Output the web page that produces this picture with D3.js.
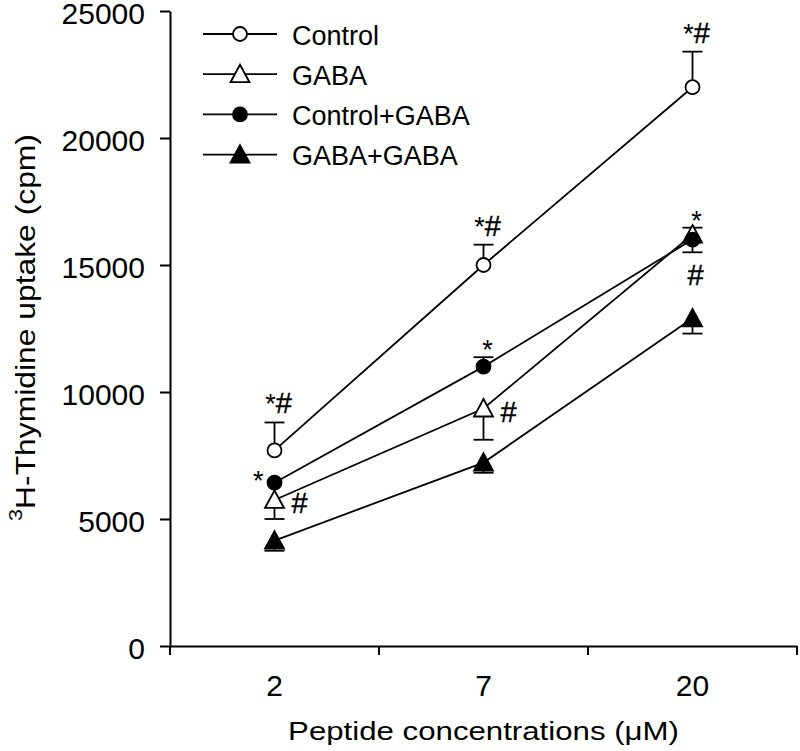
<!DOCTYPE html>
<html>
<head>
<meta charset="utf-8">
<script src="https://cdn.jsdelivr.net/npm/d3@7"></script>
<style>
  html, body { margin: 0; padding: 0; background: #fff; }
  svg { display: block; font-family: "Liberation Sans", Arial, sans-serif; }
</style>
</head>
<body>
<svg id="chart" width="800" height="751"></svg>
<script>
// ---- data ----
const categories = ["2", "7", "20"];
const seriesNames = ["Control", "GABA", "Control+GABA", "GABA+GABA"];
const seriesMarkers = ["circle-open", "triangle-open", "circle-filled", "triangle-filled"];

const controlValues = [7700, 15000, 22000];
const controlErrors = [1100, 800, 1400];
const controlErrorDir = ["up", "up", "up"];

const gabaValues = [5750, 9350, 16200];
const gabaErrors = [750, 1230, 270];
const gabaErrorDir = ["down", "down", "up"];

const controlGabaValues = [6430, 11000, 16000];
const controlGabaErrors = [0, 370, 500];
const controlGabaErrorDir = ["up", "up", "down"];

const gabaGabaValues = [4150, 7220, 12900];
const gabaGabaErrors = [400, 400, 600];
const gabaGabaErrorDir = ["down", "down", "down"];

const yTicks = [0, 5000, 10000, 15000, 20000, 25000];

// significance marks: series index, category, text, placement
const annotations = [
  { s: 0, c: "2", t: "*#", pos: "above" },
  { s: 0, c: "7", t: "*#", pos: "above" },
  { s: 0, c: "20", t: "*#", pos: "above" },
  { s: 2, c: "2", t: "*", pos: "left" },
  { s: 1, c: "2", t: "#", pos: "right" },
  { s: 2, c: "7", t: "*", pos: "above" },
  { s: 1, c: "7", t: "#", pos: "right" },
  { s: 1, c: "20", t: "*", pos: "above" },
  { s: 2, c: "20", t: "#", pos: "below" }
];

const seriesValues = [controlValues, gabaValues, controlGabaValues, gabaGabaValues];
const seriesErrors = [controlErrors, gabaErrors, controlGabaErrors, gabaGabaErrors];
const seriesErrDir = [controlErrorDir, gabaErrorDir, controlGabaErrorDir, gabaGabaErrorDir];

// ---- layout ----
const svg = d3.select("#chart");
const mLeft = 170, mRight = 797, mTop = 11, mBottom = 646;

const x = d3.scaleBand().domain(categories).range([mLeft, mRight]).padding(0);
const y = d3.scaleLinear().domain([0, 25000]).range([mBottom, mTop]);
const cx = c => x(c) + x.bandwidth() / 2;

const series = seriesNames.map((name, i) => ({
  name, marker: seriesMarkers[i],
  points: categories.map((c, j) => ({
    c, v: seriesValues[i][j], e: seriesErrors[i][j], dir: seriesErrDir[i][j]
  }))
}));

const stroke = "#000";
const lw = 1.8;

// ---- axes ----
const yAxis = d3.axisLeft(y).tickValues(yTicks).tickFormat(d3.format("d"))
  .tickSize(10).tickSizeOuter(0).tickPadding(15);
const gy = svg.append("g").attr("transform", `translate(${mLeft},0)`).call(yAxis);
gy.select(".domain").attr("stroke-width", 2);
gy.selectAll(".tick line").attr("stroke-width", 2);
gy.selectAll("text").attr("font-size", 30).attr("fill", "#000").attr("dy", "0.4em")
  .attr("font-family", "Liberation Sans, Arial, sans-serif");

const xAxis = d3.axisBottom(x).tickSize(0).tickSizeOuter(0).tickPadding(29);
const gx = svg.append("g").attr("transform", `translate(0,${mBottom})`).call(xAxis);
gx.select(".domain").attr("stroke-width", 2);
gx.selectAll("text").attr("font-size", 30).attr("fill", "#000")
  .attr("font-family", "Liberation Sans, Arial, sans-serif");
// boundary ticks between categories
const boundaries = categories.map(c => x(c)).concat([x(categories[categories.length - 1]) + x.bandwidth()]);
gx.selectAll(".bound").data(boundaries).enter().append("line")
  .attr("x1", d => d).attr("x2", d => d).attr("y1", 0).attr("y2", 9)
  .attr("stroke", stroke).attr("stroke-width", 2);

// ---- axis titles ----
const xt = svg.append("g");
const xtText = xt.append("text").attr("text-anchor", "middle")
  .attr("font-size", 25).attr("fill", "#000")
  .text("Peptide concentrations (\u03BCM)");
const sx = 391 / xtText.node().getComputedTextLength();
xt.attr("transform", `translate(${(mLeft + mRight) / 2},740) scale(${sx},1)`);

const yt = svg.append("g");
const ytText = yt.append("text").attr("text-anchor", "middle")
  .attr("font-size", 28).attr("fill", "#000");
ytText.append("tspan").attr("font-size", 19).attr("dy", -13).text("3");
ytText.append("tspan").attr("dy", 13).text("H-Thymidine uptake (cpm)");
const sy = 387 / ytText.node().getBBox().width;
yt.attr("transform", `translate(35,${(mTop + mBottom) / 2 - 1}) rotate(-90) scale(${sy},1)`);

// ---- markers ----
function trianglePath() {
  return "M0,-9.5L9.5,8L-9.5,8Z";
}
function drawMarker(g, type, px, py) {
  const filled = type.endsWith("filled");
  if (type.startsWith("circle")) {
    g.append("circle").attr("cx", px).attr("cy", py).attr("r", 7)
      .attr("fill", filled ? "#000" : "#fff").attr("stroke", stroke).attr("stroke-width", lw);
  } else {
    g.append("path").attr("d", trianglePath())
      .attr("transform", `translate(${px},${py})`)
      .attr("fill", filled ? "#000" : "#fff").attr("stroke", stroke)
      .attr("stroke-width", lw).attr("stroke-linejoin", "miter");
  }
}

// ---- lines ----
const line = d3.line().x(d => cx(d.c)).y(d => y(d.v));
const plot = svg.append("g");
series.forEach(s => {
  plot.append("path").datum(s.points).attr("d", line)
    .attr("fill", "none").attr("stroke", stroke).attr("stroke-width", lw);
});

// ---- error bars ----
const capHalf = 10;
series.forEach(s => {
  s.points.forEach(p => {
    if (!p.e) return;
    const end = p.dir === "up" ? p.v + p.e : p.v - p.e;
    plot.append("line").attr("x1", cx(p.c)).attr("x2", cx(p.c))
      .attr("y1", y(p.v)).attr("y2", y(end))
      .attr("stroke", stroke).attr("stroke-width", lw);
    plot.append("line").attr("x1", cx(p.c) - capHalf).attr("x2", cx(p.c) + capHalf)
      .attr("y1", y(end)).attr("y2", y(end))
      .attr("stroke", stroke).attr("stroke-width", lw);
  });
});

// ---- markers on points ----
series.forEach(s => {
  s.points.forEach(p => drawMarker(plot, s.marker, cx(p.c), y(p.v)));
});

// ---- annotations ----
annotations.forEach(a => {
  const s = series[a.s];
  const p = s.points.find(q => q.c === a.c);
  const px = cx(p.c), py = y(p.v);
  const capY = p.e ? y(p.dir === "up" ? p.v + p.e : p.v - p.e) : py;
  let tx, ty, anchor;
  if (a.pos === "above") {
    anchor = "middle"; tx = px + 4;
    ty = a.t.includes("#") ? capY - 9 : capY + 2;
  } else if (a.pos === "below") {
    anchor = "middle"; tx = px + 3; ty = capY + 33;
  } else if (a.pos === "left") {
    anchor = "end"; tx = px - 11; ty = py + 7;
  } else {
    anchor = "start"; tx = px + 17; ty = py + 13;
  }
  const t = svg.append("text").attr("x", tx).attr("y", ty).attr("text-anchor", anchor)
    .attr("font-size", 27).attr("fill", "#000");
  a.t.split("").forEach(ch => {
    t.append("tspan").attr("font-size", ch === "#" ? 29 : 27)
      .attr("stroke", ch === "#" ? "#000" : "none").attr("stroke-width", 0.4)
      .text(ch);
  });
});

// ---- legend ----
const legend = svg.append("g");
series.forEach((s, i) => {
  const ly = 34 + i * 40.2;
  legend.append("line").attr("x1", 203).attr("x2", 277).attr("y1", ly).attr("y2", ly)
    .attr("stroke", stroke).attr("stroke-width", lw);
  drawMarker(legend, s.marker, 240, ly);
  legend.append("text").attr("x", 292).attr("y", ly + 10.5)
    .attr("font-size", 27).attr("fill", "#000").text(s.name);
});
</script>
</body>
</html>
